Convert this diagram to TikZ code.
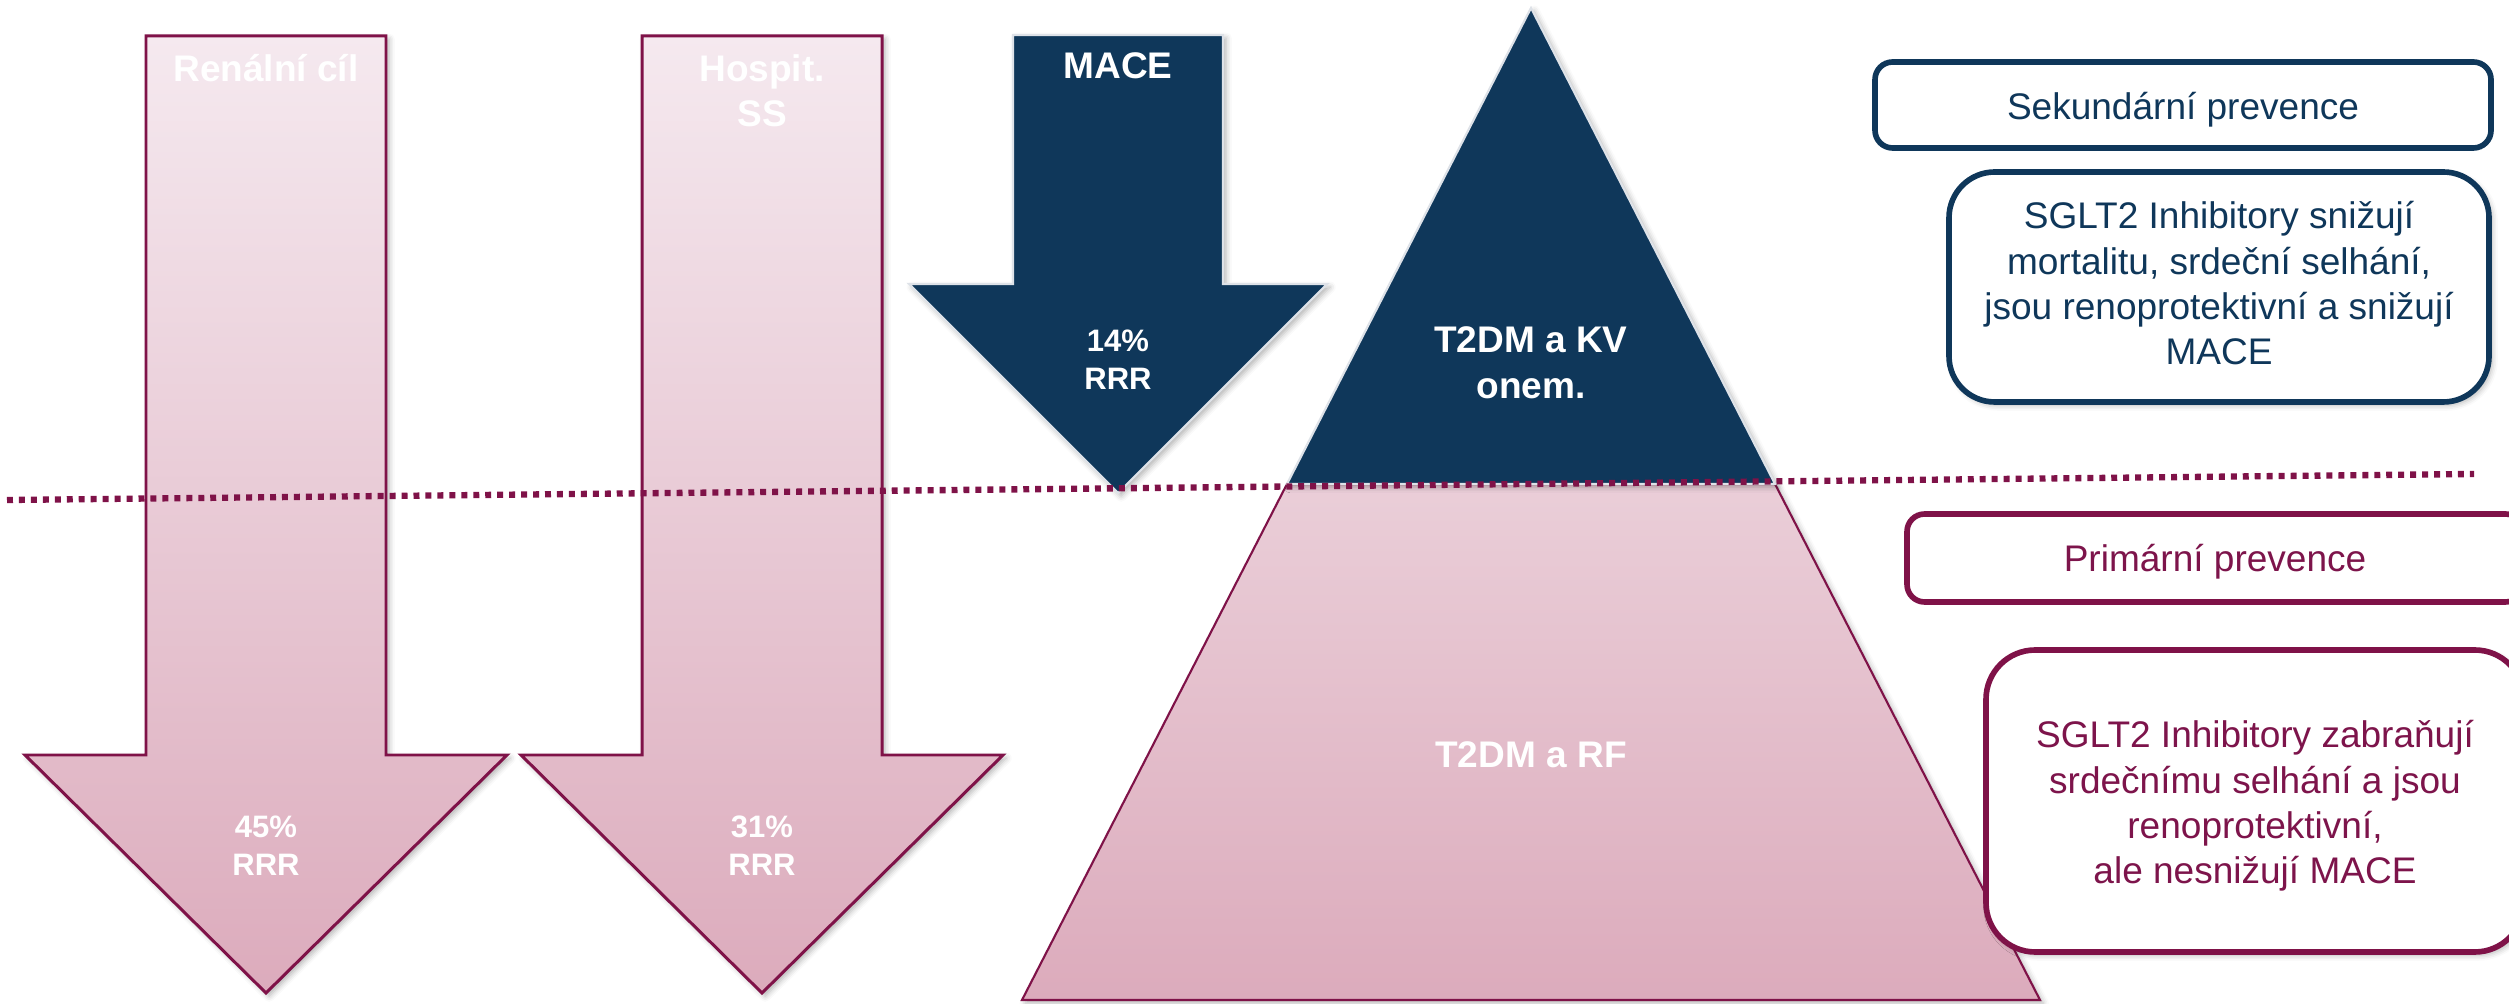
\documentclass[tikz,border=0pt]{standalone}
\usepackage{fontspec}
\setmainfont{Liberation Sans}
\usetikzlibrary{shadows.blur}
\definecolor{navy}{RGB}{15,55,90}
\definecolor{maroon}{RGB}{127,18,72}
\definecolor{maroontxt}{RGB}{125,20,75}
\definecolor{pinktop}{RGB}{245,233,239}
\definecolor{pinkbot}{RGB}{220,171,188}
\definecolor{pinkmid}{RGB}{234,206,216}
\definecolor{edgegray}{RGB}{222,226,232}
\newcommand\mlines[2]{\parbox[t]{#1}{\centering #2}}
\tikzset{
  softshadow/.style={blur shadow={shadow xshift=0.9pt, shadow yshift=-0.9pt, shadow blur radius=1.6pt, shadow opacity=30}},
  pinkarrow/.style={softshadow, draw=maroon, line width=0.85pt, top color=pinktop, bottom color=pinkbot},
  navyshape/.style={softshadow, fill=navy, draw=edgegray, line width=0.6pt},
  big/.style={font=\fontsize{10.53}{12.8}\selectfont},
  bigbold/.style={font=\bfseries\fontsize{10.53}{12.8}\selectfont},
  smallbold/.style={font=\bfseries\fontsize{8.82}{10.53}\selectfont},
  lbl/.style={inner sep=0pt, anchor=base},
  navybox/.style={draw=navy, line width=1.6pt, fill=white},
  maroonbox/.style={draw=maroon, line width=1.6pt, fill=white},
  dotline/.style={draw=maroon, line width=1.8pt, dash pattern=on 1.7pt off 1.7pt},
}
\begin{document}
\begin{tikzpicture}[x=0.01cm, y=-0.01cm]
\useasboundingbox (0,0) rectangle (2509,1004);
\clip (0,0) rectangle (2509,1004);

% pink arrows
\path[pinkarrow] (146,36) -- (386,36) -- (386,755) -- (507,755) -- (266,993) -- (25,755) -- (146,755) -- cycle;
\path[pinkarrow] (642,36) -- (882,36) -- (882,755) -- (1003,755) -- (762,993) -- (521,755) -- (642,755) -- cycle;
% MACE arrow
\path[navyshape] (1013,35) -- (1223,35) -- (1223,284) -- (1327,284) -- (1118,493) -- (909,284) -- (1013,284) -- cycle;

% pyramid
\path[softshadow, draw=maroon, line width=0.6pt, top color=pinkmid, bottom color=pinkbot]
  (1287,484) -- (1775,484) -- (2040,1000) -- (1022,1000) -- cycle;
\path[navyshape] (1531,8) -- (1775,484) -- (1287,484) -- cycle;

% dotted divider
\coordinate (dl) at (7,500);
\coordinate (dr) at (2474,474);
\draw[dotline] (dl) -- (dr);

% boxes
\draw[navybox, rounded corners=5pt] (1875,62) rectangle (2491,148);
\draw[navybox, softshadow, rounded corners=13pt] (1949,172) rectangle (2489,402);
\draw[maroonbox, rounded corners=5pt] (1907,514) rectangle (2523,602);
\draw[maroonbox, softshadow, rounded corners=14pt] (1986,650) rectangle (2524,952);

% arrow labels
\node[lbl, bigbold, text=white] (renal) at (266,82) {Renální cíl};
\node[lbl, bigbold, text=white] (hosp) at (762,82) {\mlines{5cm}{Hospit.\\SS}};
\node[lbl, bigbold, text=white] (mace) at (1118,79) {MACE};
\node[lbl, smallbold, text=white] (rrr14) at (1118,352) {\mlines{4cm}{14\%\\RRR}};
\node[lbl, smallbold, text=white] (rrr45) at (266,838) {\mlines{4cm}{45\%\\RRR}};
\node[lbl, smallbold, text=white] (rrr31) at (762,838) {\mlines{4cm}{31\%\\RRR}};

% pyramid labels
\node[lbl, bigbold, text=white] (kv) at (1531,353) {\mlines{6cm}{T2DM a KV\\onem.}};
\node[lbl, bigbold, text=white] (rf) at (1531,768) {T2DM a RF};

% box texts
\node[lbl, big, text=navy] (sek) at (2183,120) {Sekundární prevence};
\node[lbl, big, text=navy] (sglt1) at (2219,229) {\mlines{6cm}{SGLT2 Inhibitory snižují\\mortalitu, srdeční selhání,\\jsou renoprotektivní a snižují\\MACE}};
\node[lbl, big, text=maroontxt] (prim) at (2215,572) {Primární prevence};
\node[lbl, big, text=maroontxt] (sglt2) at (2255,748) {\mlines{6cm}{SGLT2 Inhibitory zabraňují\\srdečnímu selhání a jsou\\renoprotektivní,\\ale nesnižují MACE}};
\end{tikzpicture}
\end{document}
